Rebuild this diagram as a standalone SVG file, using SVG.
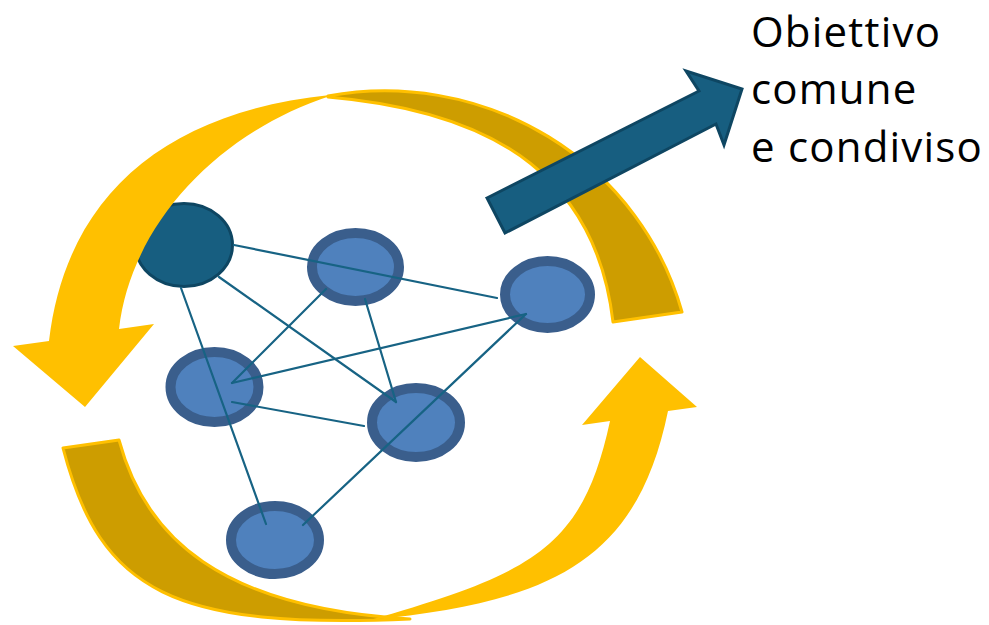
<svg xmlns="http://www.w3.org/2000/svg" width="989" height="625" viewBox="0 0 989 625">
  <style>
    .band-back { fill: #CD9D00; stroke: #FFC000; stroke-width: 3; stroke-linejoin: round; }
    .band-front { fill: #FFC000; }
    .member { fill: #4F81BD; stroke: #3A5E8C; stroke-width: 10; }
    .leader { fill: #175E80; stroke: #0E4662; stroke-width: 3; }
    .link { stroke: #176384; stroke-width: 2.2; fill: none; stroke-linecap: round; }
    .goal-arrow { fill: #175E80; stroke: #0E4662; stroke-width: 3; stroke-linejoin: miter; }
    .label { font-family: "Open Sans", "Liberation Sans", sans-serif; font-size: 42px; letter-spacing: 1.2px; fill: #000000; }
  </style>

  <rect width="989" height="625" fill="#FFFFFF"/>

  <!-- rear halves of the two circular arrows -->
  <g id="cycle-top-back">
    <path class="band-back" d="M 328,96 A 308 300 0 0 1 682,312 L 613,322 C 597,185 505,112 328,97 Z"/>
  </g>
  <g id="cycle-bottom-back">
    <path class="band-back" d="M 63,448 C 100.5,593.5 175,629 410,619 C 220,608 145,537 119,440 Z"/>
  </g>

  <!-- team members -->
  <g id="node-leader">
    <ellipse class="leader" cx="184" cy="245" rx="48.5" ry="41.5"/>
  </g>
  <g id="node-a">
    <ellipse class="member" cx="355.5" cy="267" rx="43.5" ry="34"/>
  </g>
  <g id="node-b">
    <ellipse class="member" cx="547.5" cy="294.5" rx="42.5" ry="33.5"/>
  </g>
  <g id="node-c">
    <ellipse class="member" cx="214.5" cy="387" rx="44" ry="35"/>
  </g>
  <g id="node-d">
    <ellipse class="member" cx="416" cy="422.5" rx="44" ry="34.5"/>
  </g>
  <g id="node-e">
    <ellipse class="member" cx="275" cy="540" rx="44" ry="34"/>
  </g>

  <!-- links between members -->
  <g id="links">
    <line class="link" x1="234" y1="245" x2="497" y2="298"/>
    <line class="link" x1="219" y1="277" x2="396" y2="402"/>
    <line class="link" x1="181" y1="288" x2="266" y2="524"/>
    <line class="link" x1="326" y1="289" x2="232" y2="383"/>
    <line class="link" x1="365" y1="299" x2="396" y2="402"/>
    <line class="link" x1="232" y1="383" x2="526" y2="314"/>
    <line class="link" x1="232" y1="402" x2="364" y2="426"/>
    <line class="link" x1="526" y1="314" x2="303" y2="525"/>
  </g>

  <!-- front halves of the circular arrows, with heads -->
  <g id="cycle-top-front">
    <path class="band-front" d="M 330,95 C 165,112 66,196 49,341 L 13,346 L 85,407 L 154,324 L 119,329 C 131.2,223.7 218.6,132.6 330,96 Z"/>
  </g>
  <g id="cycle-bottom-front">
    <path class="band-front" d="M 370,620 C 550,602 637,563 668,411 L 697,407 L 640,357 L 582,425 L 610,421 C 582.7,548.4 533,573 370,620 Z"/>
  </g>

  <!-- arrow towards the goal -->
  <g id="goal-arrow">
    <polygon class="goal-arrow" points="487,198 699,91 686,71 742,89 724,145 716,124 505,233"/>
  </g>

  <g id="goal-label">
    <text class="label" x="751" y="47">Obiettivo</text>
    <text class="label" x="751" y="104">comune</text>
    <text class="label" x="751" y="162">e condiviso</text>
  </g>
</svg>
